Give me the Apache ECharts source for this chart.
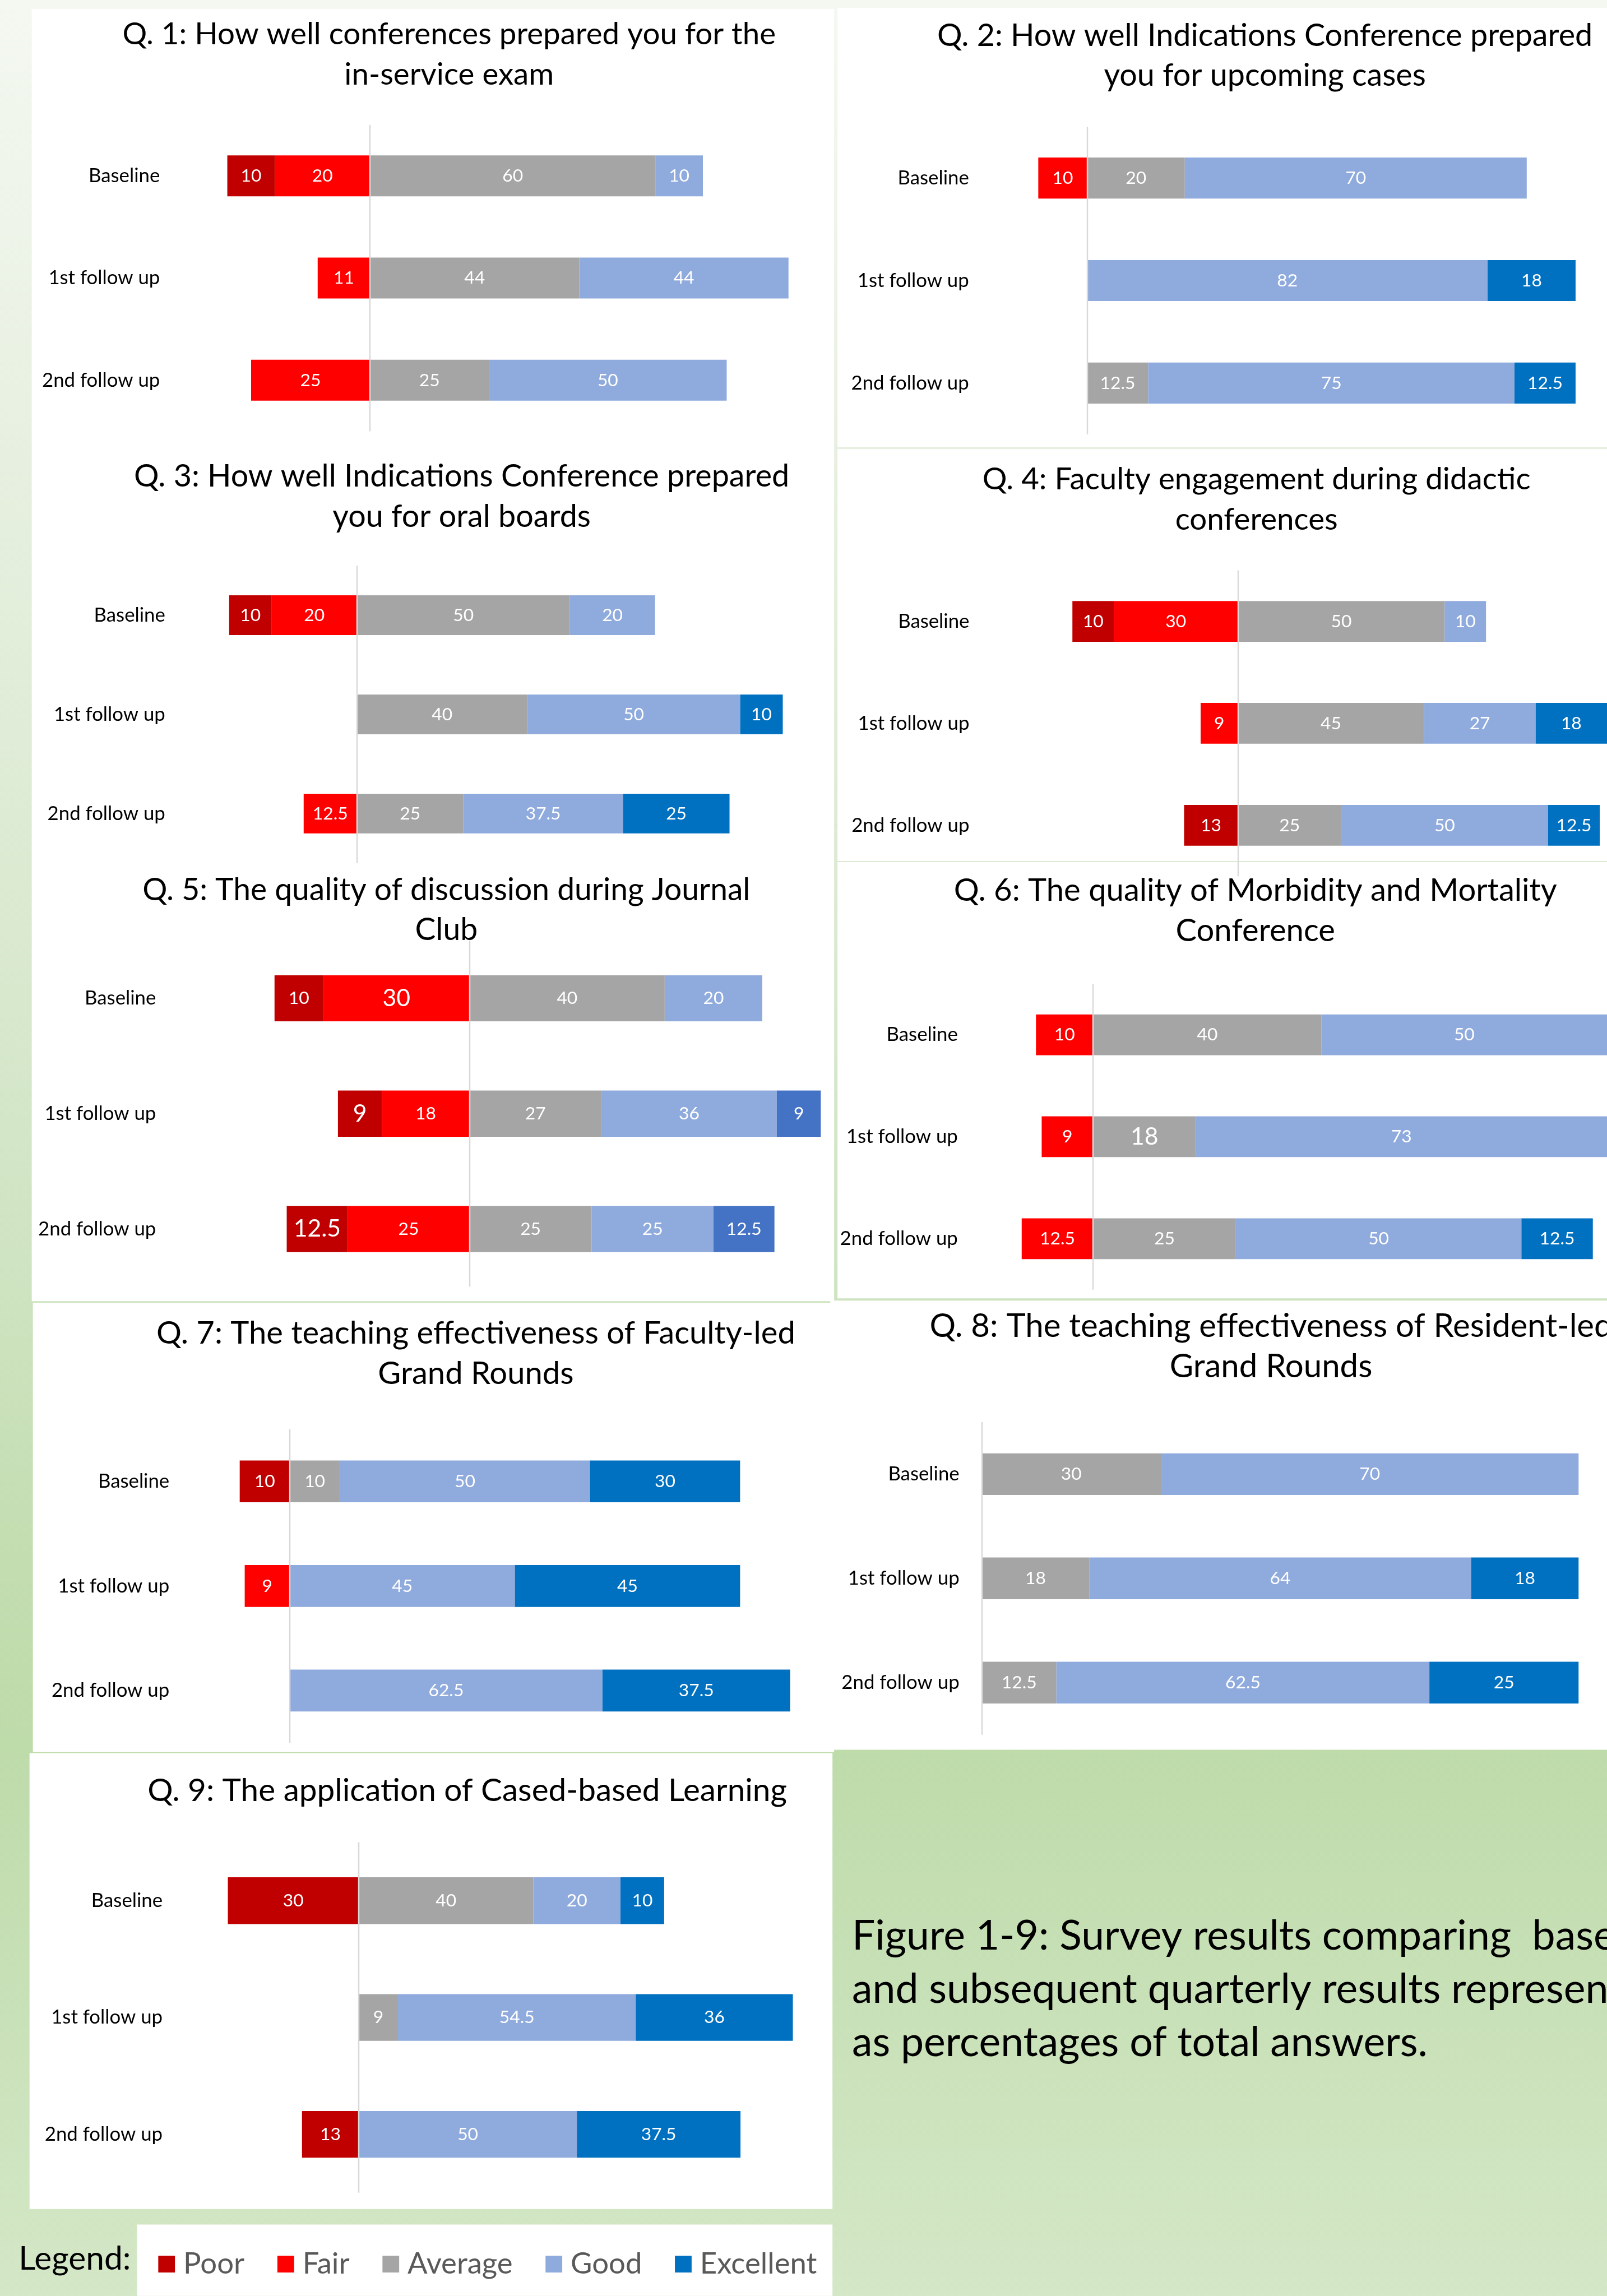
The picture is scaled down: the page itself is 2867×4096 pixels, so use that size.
<!DOCTYPE html>
<html>
<head>
<meta charset="utf-8">
<title>Survey results Q1-Q9</title>
<script src="https://cdn.jsdelivr.net/npm/echarts@6.0.0/dist/echarts.min.js"></script>
<style>
  html, body { margin: 0; padding: 0; }
  #chart { width: 2867px; height: 4096px; }
</style>
</head>
<body>
<div id="chart"></div>
<script>
// rows: Baseline, 1st follow up, 2nd follow up
// columns: Poor, Fair, Average, Good, Excellent (% of answers, 0 = no bar)
const categories = ['Baseline', '1st follow up', '2nd follow up'];
const levelNames = ['Poor', 'Fair', 'Average', 'Good', 'Excellent'];

const q1 = [[10, 20, 60, 10, 0], [0, 11, 44, 44, 0], [0, 25, 25, 50, 0]];
const q2 = [[0, 10, 20, 70, 0], [0, 0, 0, 82, 18], [0, 0, 12.5, 75, 12.5]];
const q3 = [[10, 20, 50, 20, 0], [0, 0, 40, 50, 10], [0, 12.5, 25, 37.5, 25]];
const q4 = [[10, 30, 50, 10, 0], [0, 9, 45, 27, 18], [13, 0, 25, 50, 12.5]];
const q5 = [[10, 30, 40, 20, 0], [9, 18, 27, 36, 9], [12.5, 25, 25, 25, 12.5]];
const q6 = [[0, 10, 40, 50, 0], [0, 9, 18, 73, 0], [0, 12.5, 25, 50, 12.5]];
const q7 = [[10, 0, 10, 50, 30], [0, 9, 0, 45, 45], [0, 0, 0, 62.5, 37.5]];
const q8 = [[0, 0, 30, 70, 0], [0, 0, 18, 64, 18], [0, 0, 12.5, 62.5, 25]];
const q9 = [[30, 0, 40, 20, 10], [0, 0, 9, 54.5, 36], [13, 0, 0, 50, 37.5]];

const questionTitles = [
  'Q. 1: How well conferences prepared you for the\nin-service exam',
  'Q. 2: How well Indications Conference prepared\nyou for upcoming cases',
  'Q. 3: How well Indications Conference prepared\nyou for oral boards',
  'Q. 4: Faculty engagement during didactic\nconferences',
  'Q. 5: The quality of discussion during Journal\nClub',
  'Q. 6: The quality of Morbidity and Mortality\nConference',
  'Q. 7: The teaching effectiveness of Faculty-led\nGrand Rounds',
  'Q. 8: The teaching effectiveness of Resident-led\nGrand Rounds',
  'Q. 9: The application of Cased-based Learning'
];

const captionLines = [
  'Figure 1-9: Survey results comparing  baseline',
  'and subsequent quarterly results represented',
  'as percentages of total answers.'
];

const questions = [q1, q2, q3, q4, q5, q6, q7, q8, q9];

// ---- layout, in pixels of the 2884 x 4120 poster ----
const S = 2867 / 2884;
const px = v => v * S;
const POSTER_W = 2884;
const FONT = 'Lato, "Noto Sans", sans-serif';
const MID = 0.387; // canvas "middle" sits this far (x font size) above the baseline

// zero: x of the 0 line, ppu: px per 1 %, top/h: plot band, lab: right edge of category labels,
// tx/ty: title centre x and first baseline, fs: title size
const layout = [
  { zero: 664, ppu: 8.535, top: 224, h: 550, lab: 287, tx: 806, ty: 83, fs: 55 },
  { zero: 1951, ppu: 8.766, top: 227.5, h: 552, lab: 1739, tx: 2270, ty: 86, fs: 56 },
  { zero: 640.5, ppu: 7.643, top: 1015, h: 534, lab: 296.6, tx: 828.5, ty: 877, fs: 56 },
  { zero: 2221.5, ppu: 7.423, top: 1023.6, h: 549, lab: 1739.7, tx: 2255, ty: 882, fs: 55 },
  { zero: 842.8, ppu: 8.753, top: 1688, h: 621, lab: 280, tx: 801, ty: 1619, fs: 55.5 },
  { zero: 1961.7, ppu: 10.25, top: 1765.5, h: 549, lab: 1719, tx: 2253, ty: 1620.6, fs: 56.5 },
  { zero: 520, ppu: 8.98, top: 2564.6, h: 563, lab: 304, tx: 854, ty: 2415, fs: 56.5 },
  { zero: 1762, ppu: 10.71, top: 2552, h: 561, lab: 1721.8, tx: 2281, ty: 2403, fs: 58.5 },
  { zero: 643.8, ppu: 7.83, top: 3306, h: 629, lab: 291.8, tx: 838.5, ty: 3235.4, fs: 57 }
];

// white boxes the charts sit on: x, y, w, h
const panelRects = [
  [57, 16, 1440, 2319],
  [59, 2338, 1438, 806],
  [53, 3146, 1441, 818],
  [1503, 14, 1381, 788],
  [1503, 806, 1381, 739],
  [1503, 1547, 1381, 783],
  [1490, 2334, 1394, 806],
  [246, 3992, 1248, 128]
];

const levelColors = ['#C00000', '#FF0000', '#A5A5A5', '#8FAADC', '#0070C0'];
const TITLE_LH = 72, CAT_FS = 35, VAL_FS = 32, BIG_FS = 43;
// [question, level, row] labels that were typed larger in the original
const bigLabels = [[4, 1, 0], [4, 0, 1], [4, 0, 2], [5, 2, 1]];
const isBig = (qi, li, ri) => bigLabels.some(b => b[0] === qi && b[1] === li && b[2] === ri);

function levelColor(qi, li) {
  if (qi === 4 && li === 4) return '#4472C4';
  return levelColors[li];
}

const grids = [], xAxes = [], yAxes = [], titles = [], series = [];
const stackOrder = [1, 0, 2, 3, 4]; // Fair sits on the zero line, Poor outside it

questions.forEach((rows, qi) => {
  const L = layout[qi];
  const left = L.lab + 12;
  // keep the grid inside the page; bars running past the edge get clipped there
  const right = Math.min(L.zero + 100 * L.ppu, POSTER_W);
  grids.push({
    left: px(left),
    top: px(L.top),
    width: px(right - left),
    height: px(L.h)
  });
  xAxes.push({
    gridIndex: qi,
    type: 'value',
    min: (left - L.zero) / L.ppu,
    max: (right - L.zero) / L.ppu,
    show: false,
    splitLine: { show: false }
  });
  yAxes.push({
    gridIndex: qi,
    type: 'category',
    data: categories,
    inverse: true,
    axisLine: { show: false },
    axisTick: { show: false },
    splitLine: { show: false },
    axisLabel: { margin: px(12), fontSize: px(CAT_FS), color: '#000', fontFamily: FONT }
  });
  titles.push({
    text: questionTitles[qi],
    left: px(L.tx),
    top: px(L.ty - TITLE_LH / 2 - MID * L.fs),
    textAlign: 'center',
    textVerticalAlign: 'top',
    padding: 0,
    textStyle: {
      fontFamily: FONT,
      fontWeight: 'normal',
      fontSize: px(L.fs),
      lineHeight: px(TITLE_LH),
      color: '#000'
    }
  });

  stackOrder.forEach(li => {
    const sign = li < 2 ? -1 : 1;
    const s = {
      type: 'bar',
      name: levelNames[li],
      xAxisIndex: qi,
      yAxisIndex: qi,
      stack: 'q' + qi,
      barWidth: '40%',
      itemStyle: { color: levelColor(qi, li) },
      label: {
        show: true,
        position: 'inside',
        color: '#fff',
        fontFamily: FONT,
        fontSize: px(VAL_FS),
        formatter: p => String(Math.abs(p.value))
      },
      data: rows.map((r, ri) => {
        const v = r[li];
        if (!v) return '-';
        const item = { value: sign * v };
        if (isBig(qi, li, ri)) item.label = { fontSize: px(BIG_FS) };
        return item;
      })
    };
    if (li === 2) {
      s.markLine = {
        silent: true,
        symbol: ['none', 'none'],
        label: { show: false },
        lineStyle: { color: '#D9D9D9', width: px(2.5), type: 'solid' },
        data: [{ xAxis: 0 }]
      };
    }
    series.push(s);
  });
});

const graphics = [
  {
    type: 'rect',
    z: -10,
    shape: { x: 0, y: 0, width: 2867, height: 4096 },
    style: {
      fill: new echarts.graphic.LinearGradient(0, 0, 0, 1, [
        { offset: 0, color: '#f4f8f1' },
        { offset: 0.2, color: '#e7f0e0' },
        { offset: 0.38, color: '#dcead2' },
        { offset: 0.55, color: '#cfe4c2' },
        { offset: 0.68, color: '#c3ddb0' },
        { offset: 0.76, color: '#bedbaa' },
        { offset: 1, color: '#d4e7c7' }
      ])
    }
  }
];
panelRects.forEach(r => {
  graphics.push({
    type: 'rect',
    z: -5,
    shape: { x: px(r[0]), y: px(r[1]), width: px(r[2]), height: px(r[3]) },
    style: { fill: '#ffffff' }
  });
});

const CAP_FS = 73.8;
captionLines.forEach((t, i) => {
  graphics.push({
    type: 'text',
    z: 5,
    style: {
      text: t,
      x: px(1529),
      y: px(3503 + i * 96 - MID * CAP_FS),
      fill: '#000',
      font: px(CAP_FS) + 'px ' + FONT,
      textAlign: 'left',
      textVerticalAlign: 'middle'
    }
  });
});

const LEG_LABEL_FS = 59;
graphics.push({
  type: 'text',
  z: 5,
  style: {
    text: 'Legend:',
    x: px(33.5),
    y: px(4077 - MID * LEG_LABEL_FS),
    fill: '#000',
    font: px(LEG_LABEL_FS) + 'px ' + FONT,
    textAlign: 'left',
    textVerticalAlign: 'middle'
  }
});

const LEG_FS = 53;
const chart = echarts.init(document.getElementById('chart'), null, { renderer: 'canvas' });
chart.setOption({
  animation: false,
  title: titles,
  grid: grids,
  xAxis: xAxes,
  yAxis: yAxes,
  graphic: graphics,
  legend: {
    data: levelNames,
    left: px(284),
    top: px(4063 - LEG_FS / 2),
    padding: 0,
    icon: 'rect',
    itemWidth: px(30),
    itemHeight: px(30),
    itemGap: px(59),
    textStyle: {
      fontFamily: FONT,
      fontSize: px(LEG_FS),
      color: '#595959',
      padding: [0, 0, 0, px(10)]
    }
  },
  series: series
});
</script>
</body>
</html>
